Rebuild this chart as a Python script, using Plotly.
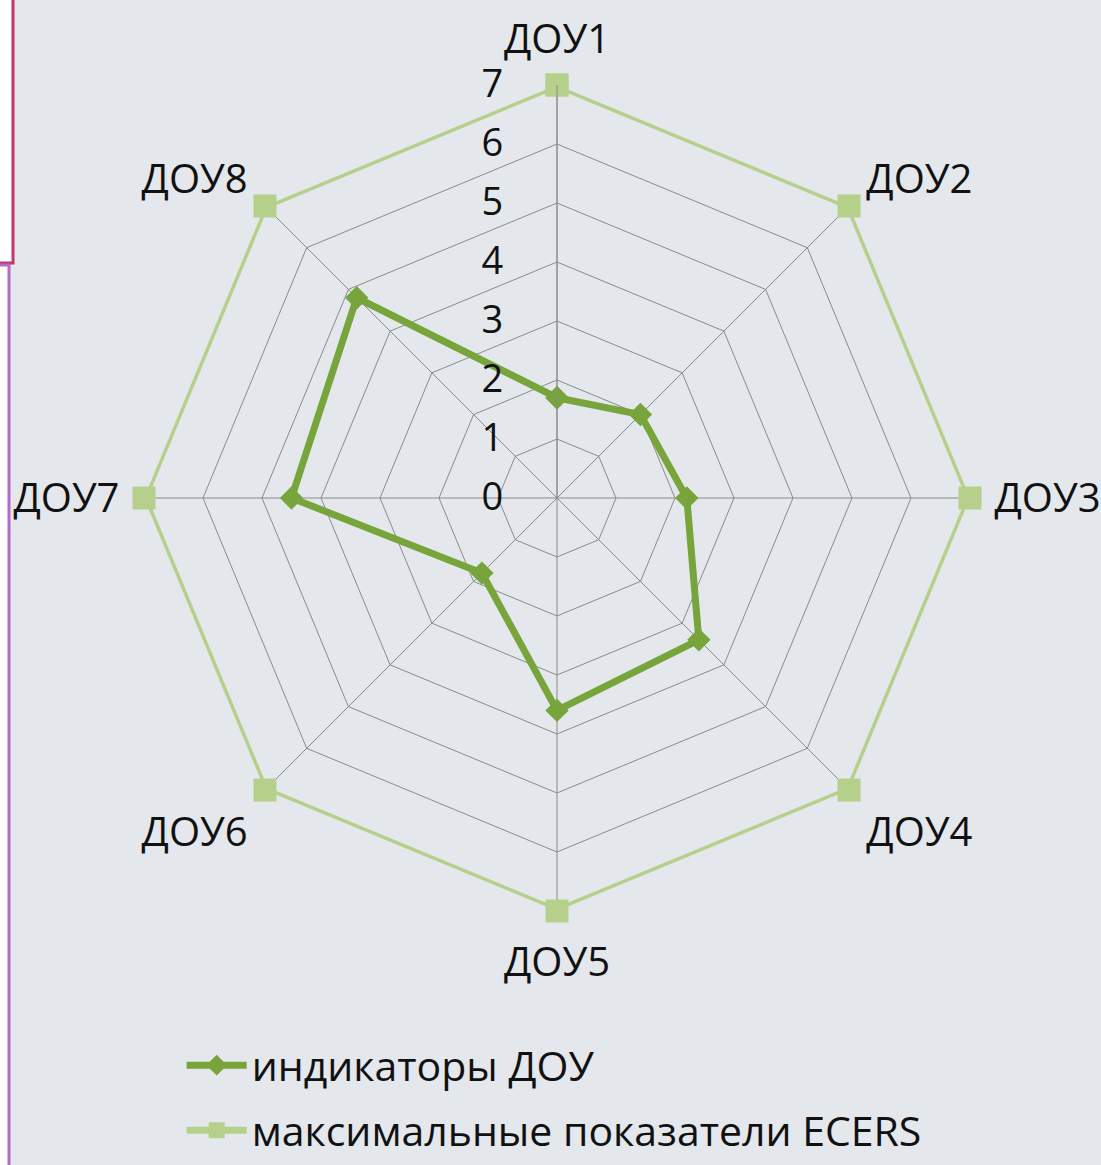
import plotly.graph_objects as go

categories = ["ДОУ1", "ДОУ2", "ДОУ3", "ДОУ4", "ДОУ5", "ДОУ6", "ДОУ7", "ДОУ8"]
indicators = [1.7, 2.0, 2.2, 3.4, 3.6, 1.8, 4.5, 4.8]
max_scores = [7, 7, 7, 7, 7, 7, 7, 7]
radial_ticks = [0, 1, 2, 3, 4, 5, 6, 7]

name_ind = "индикаторы ДОУ"
name_max = "максимальные показатели ECERS"

FONT = "Open Sans, Lato, sans-serif"
BG = "#e4e8ec"

fig = go.Figure()
fig.add_trace(go.Scatterpolar(
    r=max_scores + max_scores[:1], theta=categories + categories[:1],
    mode="lines+markers", name=name_max, legend="legend2",
    line=dict(color="#b6d08c", width=7),
    marker=dict(symbol="square", size=23, color="#b6d08c"),
))
fig.add_trace(go.Scatterpolar(
    r=indicators + indicators[:1], theta=categories + categories[:1],
    mode="lines+markers", name=name_ind, legend="legend",
    line=dict(color="#78a43c", width=7),
    marker=dict(symbol="diamond", size=18, color="#78a43c"),
))

W, H = 1101, 1165
cx, cy, R = 557, 498, 413
legend_style = dict(
    x=0.165, xanchor="left", yanchor="bottom",
    bgcolor="rgba(0,0,0,0)", borderwidth=0,
    font=dict(family="Open Sans, Lato, sans-serif", size=41, color="#111111"),
    itemwidth=60,
)
fig.update_layout(
    width=W, height=H,
    margin=dict(l=0, r=0, t=0, b=0),
    paper_bgcolor=BG,
    font=dict(family=FONT, size=38, color="#111111"),
    polar=dict(
        bgcolor=BG,
        gridshape="linear",
        domain=dict(x=[(cx - R) / W, (cx + R) / W], y=[(H - cy - R) / H, (H - cy + R) / H]),
        angularaxis=dict(
            direction="clockwise", rotation=90,
            showline=False, gridcolor="#8a8a8a", gridwidth=1,
            ticks="outside", ticklen=16, tickcolor="rgba(0,0,0,0)",
            tickfont=dict(family=FONT, size=40, color="#111111"),
        ),
        radialaxis=dict(
            range=[0, 7], tickvals=radial_ticks, angle=90, tickangle=90,
            side="counterclockwise",
            showline=True, linecolor="#8a8a8a", linewidth=1,
            gridcolor="#8a8a8a", gridwidth=1,
            ticks="outside", ticklen=40, tickcolor="rgba(0,0,0,0)",
            tickfont=dict(family=FONT, size=38, color="#111111"),
        ),
    ),
    showlegend=True,
    legend=dict(y=66 / H, **legend_style),
    legend2=dict(y=1 / H, **legend_style),
    shapes=[
        dict(type="rect", xref="paper", yref="paper", x0=-0.01, x1=13 / W,
             y0=1 - 263 / H, y1=1.01, fillcolor="white",
             line=dict(color="#c8336e", width=3), layer="above"),
        dict(type="rect", xref="paper", yref="paper", x0=-0.01, x1=9 / W,
             y0=-0.01, y1=1 - 265 / H, fillcolor="white",
             line=dict(color="#b46ac8", width=3), layer="above"),
    ],
)

fig.write_html(
    "out.html",
    config={"displayModeBar": False},
    post_script="document.body.style.margin='0';document.body.style.overflow='hidden';",
)
